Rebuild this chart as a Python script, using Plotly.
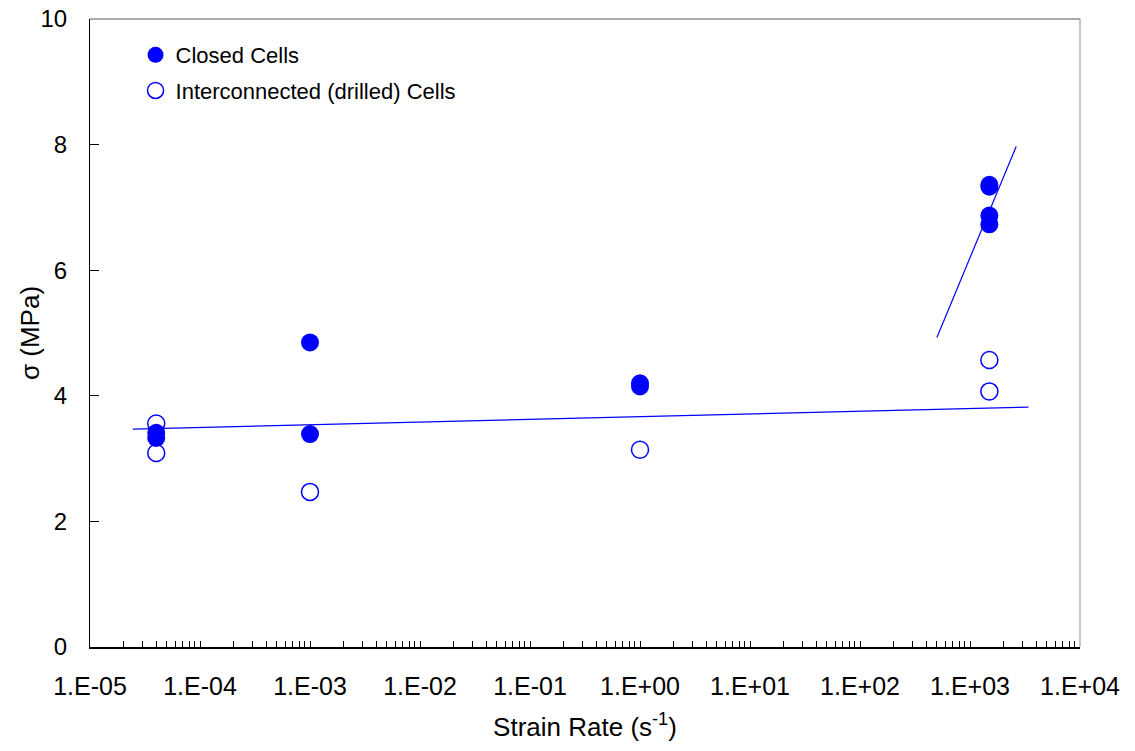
import plotly.graph_objects as go

# Data
closed_x = [4e-5, 4e-5, 1e-3, 1e-3, 1.0, 1.0, 1500, 1500, 1500, 1500]
closed_y = [3.33, 3.41, 4.85, 3.39, 4.20, 4.15, 7.33, 7.36, 6.87, 6.73]
open_x = [4e-5, 4e-5, 1e-3, 1.0, 1500, 1500]
open_y = [3.56, 3.09, 2.47, 3.14, 4.57, 4.07]
fit_low_x = [2.45e-5, 3400]
fit_low_y = [3.47, 3.82]
fit_high_x = [500, 2630]
fit_high_y = [4.93, 7.97]
decades = list(range(-5, 5))
tick_labels = ["1.E-05", "1.E-04", "1.E-03", "1.E-02", "1.E-01",
               "1.E+00", "1.E+01", "1.E+02", "1.E+03", "1.E+04"]

tickvals, ticktext = [], []
for i, d in enumerate(decades):
    for m in range(1, 10):
        if d == 4 and m > 1:
            break
        tickvals.append(m * 10 ** d)
        ticktext.append(tick_labels[i] if m == 1 else "")

BLUE = "#0000FF"
FONT = "Liberation Sans, Arial, sans-serif"
fig = go.Figure()
fig.add_trace(go.Scatter(x=fit_low_x, y=fit_low_y, mode="lines",
                         line=dict(color=BLUE, width=1.2), showlegend=False))
fig.add_trace(go.Scatter(x=fit_high_x, y=fit_high_y, mode="lines",
                         line=dict(color=BLUE, width=1.2), showlegend=False))
fig.add_trace(go.Scatter(x=closed_x, y=closed_y, mode="markers", name="Closed Cells",
                         legendgroup="a",
                         marker=dict(symbol="circle", size=18, color=BLUE,
                                     line=dict(width=0))))
fig.add_trace(go.Scatter(x=open_x, y=open_y, mode="markers",
                         name="Interconnected (drilled) Cells", legendgroup="b",
                         marker=dict(symbol="circle-open", size=17, color=BLUE,
                                     line=dict(width=1.5, color=BLUE))))

fig.update_layout(
    width=1135, height=751,
    margin=dict(l=90, r=55, t=19, b=104),
    plot_bgcolor="white", paper_bgcolor="white",
    font=dict(family=FONT, size=22, color="black"),
    showlegend=True,
    legend=dict(x=0.046, y=0.976, xanchor="left", yanchor="top",
                bgcolor="rgba(0,0,0,0)", font=dict(size=22, family=FONT),
                itemwidth=30, tracegroupgap=4),
    xaxis=dict(type="log", range=[-5, 4], tickvals=tickvals, ticktext=ticktext,
               ticks="inside", ticklen=6, tickcolor="black", tickwidth=1,
               showline=True, linecolor="black", linewidth=1.5,
               showgrid=False, zeroline=False, automargin=False,
               ticklabeloverflow="allow",
               title=dict(text="Strain Rate (s<sup>-1</sup>)",
                          font=dict(size=26, family=FONT), standoff=19),
               ticklabelstandoff=16, tickfont=dict(size=25, family=FONT)),
    yaxis=dict(range=[0, 10], tickvals=[0, 2, 4, 6, 8, 10],
               ticks="inside", ticklen=9, tickcolor="black", tickwidth=1,
               showline=True, linecolor="black", linewidth=1.2,
               showgrid=False, zeroline=False, automargin=False,
               ticklabeloverflow="allow",
               ticklabelstandoff=17, tickfont=dict(size=24, family=FONT)),
    annotations=[
        dict(text="σ (MPa)", xref="paper", yref="paper", x=-0.0606, y=0.5,
             xanchor="center", yanchor="middle", textangle=-90, showarrow=False,
             font=dict(size=26, family=FONT, color="black")),
    ],
    shapes=[
        dict(type="line", xref="paper", yref="paper", x0=0, x1=1, y0=1, y1=1,
             line=dict(color="#555555", width=1.2)),
        dict(type="line", xref="paper", yref="paper", x0=1, x1=1, y0=0, y1=1,
             line=dict(color="#a0a0a0", width=1.2)),
    ],
)

fig.write_html("out.html", config={"displayModeBar": False},
               post_script="document.body.style.margin='0';document.body.style.overflow='hidden';")
